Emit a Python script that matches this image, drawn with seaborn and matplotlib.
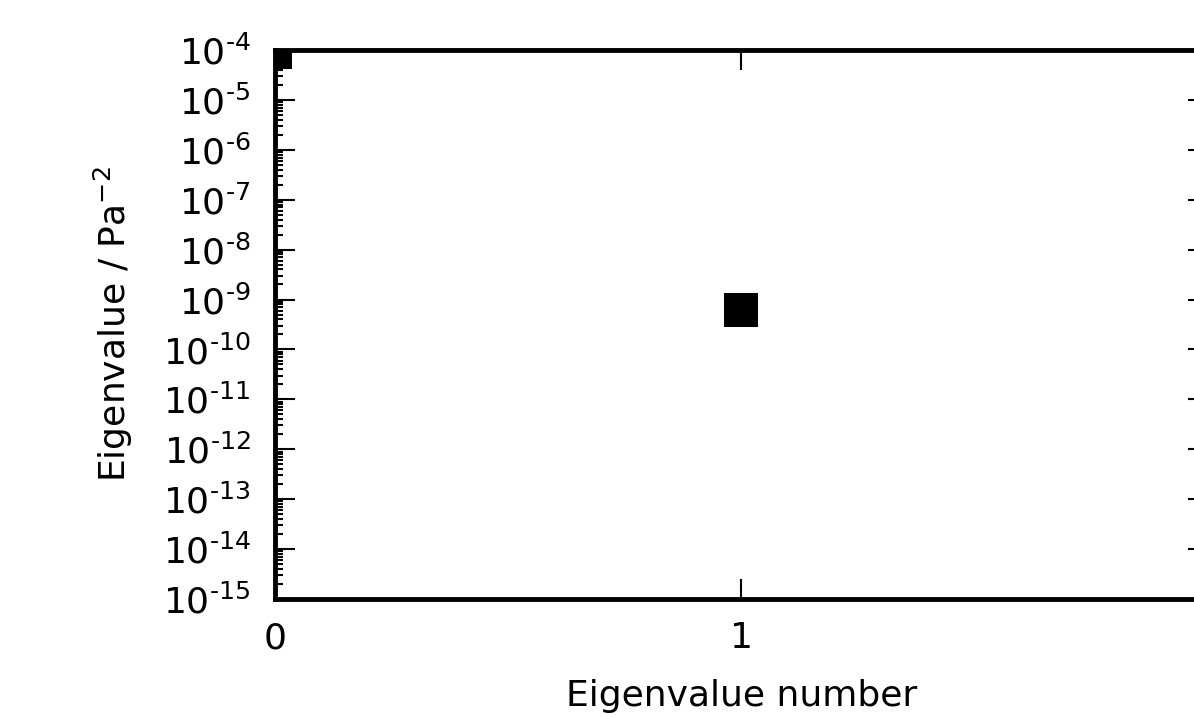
import numpy as np
import pandas as pd
import matplotlib
matplotlib.use("Agg")
import matplotlib.pyplot as plt
import seaborn as sns
from matplotlib.ticker import FixedLocator, FixedFormatter, LogLocator, NullFormatter

# Eigenvalue spectrum
eigen_index = [0, 1]
eigen_values = [9e-5, 6.2e-10]

# Axis ticks
y_exponents = list(range(-15, -3))
y_tick_labels = [r"$\mathregular{10^{\text{%d}}}$" % e for e in y_exponents]
x_ticks = [0, 1]
x_tick_labels = ["0", "1"]

sns.set_style("ticks")
plt.rcParams["font.family"] = ["DejaVu Sans"]
plt.rcParams["mathtext.fontset"] = "dejavusans"
plt.rcParams["text.color"] = "black"
plt.rcParams["axes.labelcolor"] = "black"
plt.rcParams["xtick.color"] = "black"
plt.rcParams["ytick.color"] = "black"

fig = plt.figure(figsize=(11.94, 7.17), dpi=100)
ax = fig.add_axes([0.2303, 0.1646, 0.7814, 0.7657])

df = pd.DataFrame({"n": eigen_index, "ev": eigen_values})
sns.scatterplot(data=df, x="n", y="ev", marker="s", s=570, color="black",
                linewidth=0, ax=ax, legend=False)

ax.set_yscale("log")
ax.set_ylim(10.0 ** y_exponents[0], 10.0 ** y_exponents[-1])
ax.set_xlim(0, 2)

ax.yaxis.set_major_locator(FixedLocator([10.0 ** e for e in y_exponents]))
ax.yaxis.set_major_formatter(FixedFormatter(y_tick_labels))
ax.yaxis.set_minor_locator(LogLocator(base=10, subs=np.arange(2, 10), numticks=200))
ax.yaxis.set_minor_formatter(NullFormatter())
ax.xaxis.set_major_locator(FixedLocator(x_ticks))
ax.xaxis.set_major_formatter(FixedFormatter(x_tick_labels))

for side in ["left", "right", "top", "bottom"]:
    ax.spines[side].set_linewidth(3.5)
    ax.spines[side].set_color("black")

ax.tick_params(which="major", direction="in", length=14.5, width=1.5, pad=16,
               labelsize=26, top=True, right=True, color="black",
               labelcolor="black")
ax.tick_params(which="minor", direction="in", length=6, width=1.5,
               left=True, right=False, top=False, bottom=False, color="black")
ax.tick_params(axis="y", which="major", pad=17.5)

ax.set_xlabel("Eigenvalue number", fontsize=26, labelpad=17, color="black")
ax.set_ylabel(r"Eigenvalue / Pa$^{-2}$", fontsize=26, labelpad=20, color="black")

fig.savefig("out.png", dpi=100)
